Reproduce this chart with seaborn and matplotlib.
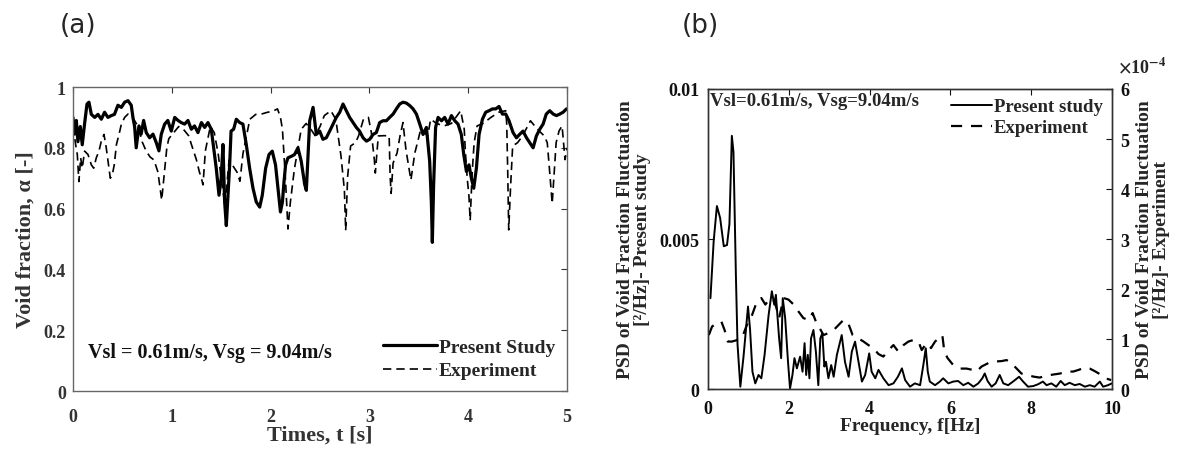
import numpy as np
import pandas as pd
import matplotlib
matplotlib.use("Agg")
import matplotlib.pyplot as plt
import seaborn as sns
from matplotlib.ticker import ScalarFormatter

# ---------------- data: panel (a) void fraction time series ----------------
t_present = [0, 0.017, 0.034, 0.05, 0.074, 0.094, 0.118, 0.142, 0.162, 0.186, 0.22, 0.253, 0.287,
             0.32, 0.354, 0.388, 0.42, 0.455, 0.49, 0.523, 0.557, 0.59, 0.607, 0.624, 0.64, 0.668,
             0.69, 0.715, 0.742, 0.776, 0.81, 0.843, 0.87, 0.894, 0.928, 0.96, 0.995, 1.03, 1.063,
             1.096, 1.13, 1.164, 1.198, 1.23, 1.265, 1.3, 1.333, 1.366, 1.4, 1.424, 1.45, 1.478,
             1.5, 1.518, 1.535, 1.552, 1.569, 1.586, 1.6, 1.626, 1.653, 1.687, 1.72, 1.754, 1.788,
             1.822, 1.855, 1.89, 1.916, 1.95, 1.984, 2.017, 2.05, 2.078, 2.1, 2.12, 2.136, 2.152,
             2.176, 2.21, 2.243, 2.277, 2.31, 2.345, 2.362, 2.396, 2.43, 2.463, 2.497, 2.53, 2.564,
             2.598, 2.632, 2.665, 2.7, 2.733, 2.767, 2.8, 2.835, 2.868, 2.9, 2.936, 2.97, 3.003,
             3.037, 3.07, 3.104, 3.138, 3.172, 3.205, 3.24, 3.273, 3.307, 3.34, 3.375, 3.408, 3.442,
             3.476, 3.51, 3.543, 3.577, 3.61, 3.627, 3.637, 3.65, 3.67, 3.695, 3.73, 3.762, 3.796,
             3.83, 3.864, 3.897, 3.93, 3.955, 3.982, 4.008, 4.032, 4.056, 4.083, 4.11, 4.144, 4.177,
             4.211, 4.245, 4.278, 4.312, 4.346, 4.38, 4.413, 4.454, 4.488, 4.52, 4.555, 4.59, 4.623,
             4.657, 4.69, 4.724, 4.758, 4.79, 4.825, 4.86, 4.893, 4.927, 4.96, 4.995]
a_present = [0.9, 0.845, 0.89, 0.82, 0.87, 0.81, 0.88, 0.944, 0.95, 0.91, 0.9, 0.91, 0.894,
             0.917, 0.9, 0.906, 0.91, 0.94, 0.933, 0.95, 0.955, 0.94, 0.9, 0.87, 0.8, 0.872,
             0.845, 0.89, 0.85, 0.833, 0.845, 0.817, 0.79, 0.845, 0.878, 0.89, 0.855, 0.9, 0.89,
             0.883, 0.878, 0.89, 0.861, 0.872, 0.85, 0.883, 0.867, 0.883, 0.861, 0.8, 0.733, 0.644,
             0.7, 0.811, 0.622, 0.544, 0.644, 0.744, 0.855, 0.861, 0.894, 0.883, 0.878, 0.811, 0.733,
             0.667, 0.622, 0.605, 0.644, 0.733, 0.778, 0.789, 0.744, 0.656, 0.589, 0.622, 0.689, 0.744,
             0.767, 0.772, 0.778, 0.8, 0.756, 0.68, 0.66, 0.889, 0.933, 0.844, 0.855, 0.828, 0.833,
             0.855, 0.878, 0.9, 0.917, 0.944, 0.922, 0.9, 0.883, 0.867, 0.855, 0.833, 0.822, 0.828,
             0.844, 0.85, 0.883, 0.889, 0.889, 0.9, 0.911, 0.928, 0.944, 0.95, 0.947, 0.939, 0.928,
             0.911, 0.878, 0.844, 0.867, 0.756, 0.622, 0.489, 0.678, 0.867, 0.9, 0.889, 0.9, 0.878,
             0.906, 0.889, 0.878, 0.844, 0.778, 0.722, 0.744, 0.7, 0.667, 0.733, 0.844, 0.894, 0.917,
             0.922, 0.928, 0.928, 0.936, 0.911, 0.911, 0.889, 0.85, 0.833, 0.844, 0.855, 0.833, 0.817,
             0.8, 0.839, 0.861, 0.878, 0.911, 0.922, 0.911, 0.906, 0.911, 0.917, 0.928]

t_experiment = [0, 0.027, 0.044, 0.06, 0.078, 0.094, 0.118, 0.152, 0.186, 0.21, 0.236, 0.263, 0.287,
                0.314, 0.337, 0.36, 0.378, 0.398, 0.418, 0.44, 0.466, 0.49, 0.523, 0.557, 0.59, 0.624,
                0.66, 0.7, 0.74, 0.78, 0.82, 0.86, 0.898, 0.92, 0.95, 0.97, 1.02, 1.07, 1.12, 1.17,
                1.21, 1.25, 1.28, 1.3, 1.316, 1.34, 1.39, 1.43, 1.47, 1.5, 1.53, 1.55, 1.58, 1.62,
                1.66, 1.69, 1.72, 1.79, 1.85, 1.907, 1.97, 2.02, 2.07, 2.1, 2.12, 2.15, 2.176, 2.2,
                2.24, 2.31, 2.36, 2.41, 2.45, 2.5, 2.544, 2.61, 2.66, 2.713, 2.747, 2.76, 2.78, 2.81,
                2.86, 2.89, 2.94, 2.99, 3.02, 3.05, 3.06, 3.09, 3.15, 3.2, 3.21, 3.22, 3.24, 3.28,
                3.31, 3.34, 3.37, 3.42, 3.46, 3.52, 3.59, 3.62, 3.68, 3.755, 3.83, 3.924, 3.96, 3.97,
                3.99, 4.008, 4.02, 4.04, 4.06, 4.09, 4.15, 4.23, 4.31, 4.38, 4.39, 4.4, 4.41, 4.43,
                4.45, 4.5, 4.55, 4.63, 4.7, 4.77, 4.8, 4.82, 4.85, 4.87, 4.89, 4.92, 4.95, 4.98, 5.0]
a_experiment = [0.872, 0.811, 0.778, 0.689, 0.767, 0.733, 0.789, 0.778, 0.744, 0.733, 0.767, 0.789, 0.822,
                0.844, 0.8, 0.744, 0.7, 0.711, 0.744, 0.811, 0.844, 0.878, 0.9, 0.911, 0.906, 0.889,
                0.87, 0.82, 0.79, 0.77, 0.76, 0.72, 0.628, 0.70, 0.8, 0.83, 0.85, 0.87, 0.86, 0.84,
                0.80, 0.76, 0.72, 0.70, 0.678, 0.79, 0.87, 0.85, 0.78, 0.70, 0.63, 0.65, 0.76, 0.74,
                0.72, 0.69, 0.78, 0.894, 0.91, 0.911, 0.917, 0.92, 0.928, 0.90, 0.861, 0.70, 0.533, 0.62,
                0.728, 0.861, 0.88, 0.86, 0.84, 0.87, 0.906, 0.922, 0.894, 0.772, 0.661, 0.528, 0.706, 0.806,
                0.817, 0.839, 0.894, 0.9, 0.85, 0.761, 0.717, 0.839, 0.84, 0.839, 0.706, 0.65, 0.75, 0.783,
                0.839, 0.883, 0.794, 0.694, 0.783, 0.861, 0.839, 0.894, 0.88, 0.872, 0.88, 0.922, 0.861, 0.794,
                0.70, 0.639, 0.561, 0.717, 0.817, 0.872, 0.88, 0.9, 0.917, 0.922, 0.878, 0.72, 0.53, 0.68,
                0.806, 0.817, 0.839, 0.889, 0.861, 0.839, 0.817, 0.739, 0.617, 0.717, 0.817, 0.856, 0.872, 0.761, 0.8]

# ---------------- data: panel (b) PSD ----------------
f_present = [0.06, 0.14, 0.22, 0.3, 0.39, 0.47, 0.53, 0.59, 0.63, 0.69, 0.73, 0.8, 0.88, 0.99, 1.04,
             1.1, 1.17, 1.25, 1.32, 1.4, 1.5, 1.58, 1.64, 1.68, 1.76, 1.81, 1.85, 1.91, 1.98, 2.03,
             2.09, 2.14, 2.2, 2.28, 2.34, 2.39, 2.43, 2.47, 2.51, 2.55, 2.61, 2.67, 2.73, 2.78, 2.83,
             2.88, 2.92, 2.98, 3.05, 3.11, 3.19, 3.31, 3.39, 3.48, 3.56, 3.64, 3.71, 3.81, 3.89, 3.99,
             4.05, 4.14, 4.22, 4.34, 4.47, 4.59, 4.7, 4.8, 4.88, 5.0, 5.12, 5.25, 5.33, 5.39, 5.44,
             5.49, 5.62, 5.74, 5.82, 5.95, 6.07, 6.19, 6.32, 6.44, 6.57, 6.69, 6.79, 6.85, 6.92, 7.02,
             7.12, 7.22, 7.31, 7.43, 7.55, 7.7, 7.8, 7.92, 8.05, 8.17, 8.29, 8.38, 8.5, 8.62, 8.73,
             8.83, 8.95, 9.08, 9.2, 9.33, 9.45, 9.57, 9.7, 9.78, 9.9, 10.0]
psd_present_e3 = [3.03, 4.93, 6.1, 5.7, 4.76, 4.8, 5.5, 8.44, 7.9, 3.8, 1.5, 0.08, 1.1, 2.75, 2.0,
                  0.58, 0.19, 0.47, 0.36, 1.14, 2.47, 3.26, 2.81, 3.14, 1.69, 1.03, 3.03, 2.36, 0.91, 0.02,
                  0.47, 1.03, 0.69, 1.08, 0.58, 1.53, 0.47, 1.14, 0.36, 1.69, 1.97, 1.25, 0.13, 1.69, 1.86,
                  0.75, 0.91, 0.36, 0.8, 0.41, 1.14, 1.8, 0.91, 0.41, 1.25, 1.58, 1.03, 0.25, 0.47, 1.19,
                  0.58, 0.36, 0.64, 0.36, 0.13, 0.19, 0.41, 0.69, 0.30, 0.08, 0.19, 0.13, 0.8, 1.36, 0.58,
                  0.25, 0.13, 0.25, 0.36, 0.19, 0.25, 0.27, 0.13, 0.21, 0.08, 0.19, 0.36, 0.52, 0.27, 0.08,
                  0.19, 0.47, 0.19, 0.13, 0.25, 0.41, 0.25, 0.08, 0.10, 0.16, 0.25, 0.13, 0.19, 0.08, 0.27,
                  0.13, 0.21, 0.13, 0.17, 0.08, 0.13, 0.08, 0.25, 0.08, 0.13, 0.19]

f_experiment = [0.02, 0.1, 0.22, 0.33, 0.41, 0.49, 0.59, 0.72, 0.84, 0.96, 1.09, 1.21, 1.32, 1.42, 1.54,
                1.65, 1.76, 1.87, 1.99, 2.12, 2.24, 2.36, 2.49, 2.59, 2.67, 2.74, 2.86, 2.98, 3.11, 3.23,
                3.35, 3.46, 3.58, 3.71, 3.85, 3.97, 4.09, 4.22, 4.34, 4.47, 4.59, 4.71, 4.84, 4.96, 5.08,
                5.21, 5.29, 5.41, 5.52, 5.62, 5.72, 5.8, 5.85, 5.93, 6.07, 6.24, 6.4, 6.57, 6.65, 6.77,
                6.94, 7.1, 7.27, 7.39, 7.51, 7.64, 7.76, 7.88, 8.05, 8.21, 8.38, 8.54, 8.71, 8.87, 9.04,
                9.16, 9.33, 9.45, 9.57, 9.74, 9.86, 9.98]
psd_experiment_e4 = [1.08, 1.25, 1.32, 1.35, 1.18, 0.95, 0.95, 0.98, 1.02, 1.28, 1.48, 1.75, 1.82, 1.69, 1.82,
                     1.75, 1.42, 1.82, 1.79, 1.69, 1.55, 1.42, 1.38, 1.52, 1.35, 1.25, 1.08, 1.12, 1.18, 1.28,
                     1.38, 1.34, 1.08, 1.02, 0.95, 0.88, 0.82, 0.70, 0.65, 0.78, 0.88, 0.75, 0.88, 0.95, 0.98,
                     0.95, 0.78, 0.92, 0.82, 0.95, 1.02, 1.08, 0.75, 0.62, 0.48, 0.41, 0.41, 0.38, 0.35, 0.45,
                     0.52, 0.55, 0.56, 0.58, 0.52, 0.41, 0.31, 0.29, 0.25, 0.23, 0.27, 0.29, 0.31, 0.35, 0.35,
                     0.38, 0.43, 0.41, 0.36, 0.28, 0.21, 0.18]

left_ticks_b = [0, 0.005, 0.01]
left_ticklabels_b = ["0", "0.005", "0.01"]

# ---------------- style ----------------
sns.set_theme(style="white")
plt.rcParams['font.family'] = ['Liberation Serif', 'DejaVu Serif']
plt.rcParams['font.weight'] = 'bold'
plt.rcParams['axes.labelweight'] = 'bold'
plt.rcParams['mathtext.fontset'] = 'stix'
plt.rcParams['mathtext.default'] = 'bf'

fig = plt.figure(figsize=(11.98, 4.52), dpi=100)
ax1 = fig.add_axes([0.0609, 0.1327, 0.4124, 0.6726])
ax2 = fig.add_axes([0.5910, 0.1370, 0.3372, 0.6639])
ax3 = ax2.twinx()

# ---------------- panel (a) ----------------
df_p = pd.DataFrame({"t": t_present, "a": a_present})
df_e = pd.DataFrame({"t": t_experiment, "a": a_experiment})
sns.lineplot(data=df_e, x="t", y="a", ax=ax1, color="black", lw=1.2,
             linestyle=(0, (5, 3)), estimator=None, sort=False, label="Experiment")
sns.lineplot(data=df_p, x="t", y="a", ax=ax1, color="black", lw=2.3,
             estimator=None, sort=False, label="Present Study")
ax1.set_xlim(0, 5)
ax1.set_ylim(0, 1)
ax1.set_xticks([0, 1, 2, 3, 4, 5])
ax1.set_yticks([0, 0.2, 0.4, 0.6, 0.8, 1])
ax1.set_yticklabels(["0", "0.2", "0.4", "0.6", "0.8", "1"])
ax1.set_xlabel("Times, t [s]", fontsize=16, color="#333333", labelpad=0)
ax1.set_ylabel("Void fraction, α [-]", fontsize=16, color="#333333", labelpad=6)
ax1.tick_params(direction="in", top=True, right=True, length=4, width=0.8,
                labelsize=13, colors="#333333", pad=5)
ax1.tick_params(axis="x", pad=12)
for s in ax1.spines.values():
    s.set_color("#666666")
    s.set_linewidth(1.0)
ax1.text(0.15, 0.128, "Vsl = 0.61m/s, Vsg = 9.04m/s", fontsize=14.5, fontweight="bold",
         va="center", ha="left", color="#111111")
h, l = ax1.get_legend_handles_labels()
order = [l.index("Present Study"), l.index("Experiment")]
ax1.legend([h[i] for i in order], [l[i] for i in order], loc="lower right",
           bbox_to_anchor=(1.0, 0.0), frameon=False, fontsize=14, handlelength=2.8,
           handletextpad=0.1, labelspacing=0.3, borderaxespad=0.2)

# ---------------- panel (b) ----------------
sns.lineplot(x=f_present, y=[v * 1e-3 for v in psd_present_e3], ax=ax2, color="black",
             lw=1.4, estimator=None, sort=False, label="Present study")
sns.lineplot(x=f_experiment, y=[v * 1e-4 for v in psd_experiment_e4], ax=ax3, color="black",
             lw=1.6, linestyle=(0, (5, 4)), estimator=None, sort=False, label="Experiment")
ax2.set_xlim(0, 10)
ax2.set_ylim(0, 0.01)
ax3.set_ylim(0, 6e-4)
ax2.set_xticks([0, 2, 4, 6, 8, 10])
ax2.set_yticks(left_ticks_b)
ax2.set_yticklabels(left_ticklabels_b)
ax3.set_yticks([i * 1e-4 for i in range(7)])
fmt = ScalarFormatter(useMathText=True)
fmt.set_powerlimits((-3, 3))
ax3.yaxis.set_major_formatter(fmt)
ax3.yaxis.get_offset_text().set_visible(False)
ax3.text(1.015, 1.075, r"$\times\mathregular{10}^{-4}$", transform=ax3.transAxes,
         fontsize=13, ha="left", va="center")
ax2.tick_params(direction="in", top=True, right=False, length=4, width=0.8,
                labelsize=13, colors="#111111", pad=6)
ax2.tick_params(axis="x", pad=8)
ax3.tick_params(direction="in", length=4, width=0.8, labelsize=13, colors="#111111", pad=6)
for a in (ax2, ax3):
    for s in a.spines.values():
        s.set_color("#333333")
        s.set_linewidth(1.0)
ax2.set_xlabel("Frequency, f[Hz]", fontsize=14, labelpad=0)
ax2.set_ylabel("PSD of Void Fraction Fluctuation\n[²/Hz]- Present study", fontsize=14,
               labelpad=6, linespacing=1.0)
ax3.set_ylabel("PSD of Void Fraction Fluctuation\n[²/Hz]- Experiment", fontsize=14,
               labelpad=4, linespacing=1.0)
ax2.text(0.05, 0.0096, "Vsl=0.61m/s, Vsg=9.04m/s", fontsize=13.5, fontweight="bold",
         va="center", ha="left")
h2, l2 = ax2.get_legend_handles_labels()
h3, l3 = ax3.get_legend_handles_labels()
if ax3.get_legend() is not None:
    ax3.get_legend().remove()
ax2.legend(h2 + h3, l2 + l3, loc="upper right", frameon=False, fontsize=13.5,
           handlelength=2.2, handletextpad=0.1, labelspacing=0.2, borderaxespad=0.1)

fig.text(0.050, 0.942, "(a)", fontsize=19, family="DejaVu Sans", fontweight="normal", va="center")
fig.text(0.569, 0.942, "(b)", fontsize=19, family="DejaVu Sans", fontweight="normal", va="center")

fig.savefig("out.png", dpi=100)
